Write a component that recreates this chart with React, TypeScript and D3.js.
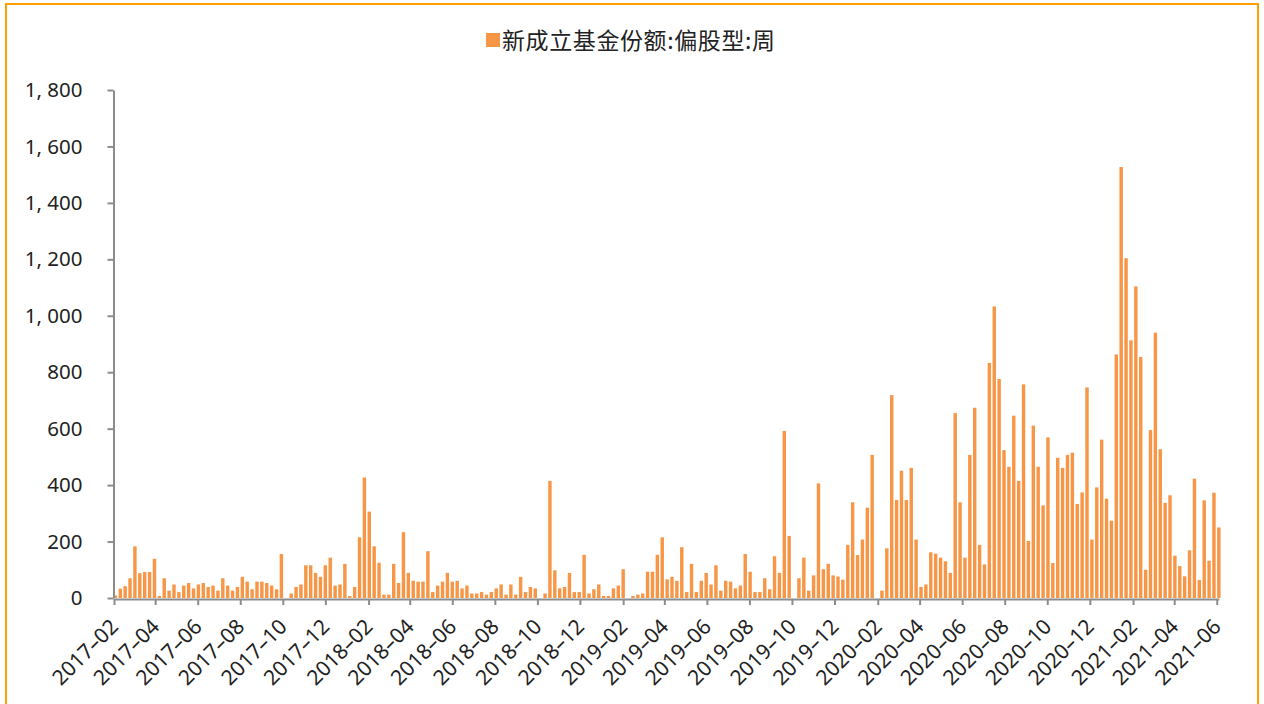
import { useEffect, useRef } from "react";
import * as d3 from "d3";

const seriesName = "新成立基金份额:偏股型:周";

// weekly new equity-fund shares, one value per Friday, split by year
const shares2017 = [
  9, 33, 42, 70, 183, 88, 92, 92, 139, 7, 70, 26, 48, 21, 44, 53, 34, 48, 53, 39,
  44, 26, 70, 44, 26, 39, 75, 58, 31, 58, 58, 53, 44, 31, 156, 0, 16, 39, 48, 116,
  116, 89, 75, 116, 143, 44, 48, 121,
];
const shares2018 = [
  7, 39, 215, 427, 306, 183, 125, 12, 12, 121, 53, 233, 89, 61, 58, 58, 166, 21, 44, 58,
  89, 58, 61, 34, 44, 16, 16, 21, 12, 21, 34, 48, 12, 48, 12, 75, 21, 39, 34, 0,
  16, 415, 98, 34, 39, 89, 21, 21, 153, 16, 31, 48,
];
const shares2019 = [
  7, 7, 34, 44, 102, 0, 7, 12, 16, 93, 93, 153, 215, 66, 75, 61, 180, 21, 121, 21,
  61, 89, 48, 116, 26, 61, 58, 34, 44, 156, 93, 21, 21, 70, 31, 148, 89, 592, 220, 0,
  70, 143, 26, 80, 406, 102, 121, 80, 76, 65, 188, 339,
];
const shares2020 = [
  152, 207, 320, 507, 0, 26, 176, 719, 347, 451, 347, 461, 207, 39, 48, 162, 157, 143, 130, 89,
  655, 339, 143, 507, 674, 188, 119, 833, 1033, 776, 524, 465, 646, 415, 757, 202, 611, 465, 328, 569,
  124, 497, 461, 507, 515, 333, 374, 746, 207, 392, 561, 352,
];
const shares2021 = [
  274, 863, 1527, 1204, 913, 1104, 854, 100, 595, 940, 527, 337, 364, 150, 113, 77, 169, 423, 64, 346,
  132, 373, 250,
];

const firstFriday = new Date(2017, 1, 3);
const lastFriday = new Date(2021, 5, 4);
const axisStart = new Date(2017, 1, 1);
const yTicks = [0, 200, 400, 600, 800, 1000, 1200, 1400, 1600, 1800];

const barColor = "#F79646";
const axisColor = "#8C8C8C";

export default function App() {
  const ref = useRef<SVGSVGElement>(null);

  useEffect(() => {
    const values = [...shares2017, ...shares2018, ...shares2019, ...shares2020, ...shares2021];
    const dates = d3.timeFriday.range(firstFriday, d3.timeDay.offset(lastFriday, 1));
    const data = dates.map((d, i) => ({ date: d, value: values[i] ?? 0 }));

    const width = 1264;
    const height = 704;
    const plotLeft = 114;
    const plotBottom = 598;
    const plotTop = 90;

    const x = d3
      .scaleTime()
      .domain([axisStart, lastFriday])
      .range([plotLeft, plotLeft + d3.timeDay.count(axisStart, lastFriday) * 0.6975]);
    const y = d3.scaleLinear().domain([0, 1800]).range([plotBottom, plotTop]);

    const svg = d3.select(ref.current);
    svg.selectAll("*").remove();

    // frame
    svg
      .append("rect")
      .attr("x", 6)
      .attr("y", 4)
      .attr("width", width - 12)
      .attr("height", height + 20)
      .attr("fill", "#fff")
      .attr("stroke", "#FFA000")
      .attr("stroke-width", 2);

    // legend
    const legend = svg.append("g");
    legend
      .append("rect")
      .attr("x", 486)
      .attr("y", 33)
      .attr("width", 14)
      .attr("height", 14)
      .attr("fill", barColor);
    legend
      .append("text")
      .attr("x", 502)
      .attr("y", 49)
      .attr("font-family", "'Noto Sans CJK SC', sans-serif")
      .attr("font-size", 23)
      .attr("letter-spacing", 0.6)
      .attr("fill", "#222")
      .text(seriesName);

    // bars
    const barW = (x(d3.timeDay.offset(firstFriday, 7)) - x(firstFriday)) * 0.7;
    svg
      .append("g")
      .selectAll("rect")
      .data(data)
      .enter()
      .append("rect")
      .attr("x", (d) => x(d.date) - barW / 2)
      .attr("y", (d) => y(d.value))
      .attr("width", barW)
      .attr("height", (d) => plotBottom - y(d.value))
      .attr("fill", barColor);

    // y axis
    const yAxis = svg
      .append("g")
      .attr("transform", `translate(${plotLeft - 0.5},0)`)
      .call(
        d3
          .axisLeft(y)
          .tickValues(yTicks)
          .tickSize(6)
          .tickSizeOuter(0)
          .tickPadding(25)
          .tickFormat((d) => d3.format(",")(d as number).replace(",", ", "))
      );
    yAxis.select(".domain").attr("stroke", axisColor).attr("stroke-width", 2);
    yAxis.selectAll(".tick line").attr("stroke", axisColor).attr("stroke-width", 2);
    yAxis
      .selectAll(".tick text")
      .attr("fill", "#222")
      .attr("font-family", "'Noto Sans', sans-serif")
      .attr("font-size", 20.5);

    // x axis
    const monthTicks = d3.timeMonth.range(axisStart, new Date(2021, 6, 1), 2);
    const xAxis = svg
      .append("g")
      .attr("transform", `translate(0,${plotBottom + 1})`)
      .call(
        d3
          .axisBottom(x)
          .tickValues(monthTicks)
          .tickSize(6)
          .tickSizeOuter(0)
          .tickFormat((d) => d3.timeFormat("%Y–%m")(d as Date))
      );
    xAxis.select(".domain").attr("stroke", axisColor).attr("stroke-width", 2);
    xAxis.selectAll(".tick line").attr("stroke", axisColor).attr("stroke-width", 2);
    xAxis
      .selectAll(".tick text")
      .attr("fill", "#222")
      .attr("font-family", "'Noto Sans', sans-serif")
      .attr("font-size", 21)
      .attr("text-anchor", "end")
      .attr("x", 0)
      .attr("y", 0)
      .attr("dy", 0)
      .attr("transform", "translate(5,29) rotate(-45)");

    return () => {
      svg.selectAll("*").remove();
    };
  }, []);

  return (
    <svg
      ref={ref}
      width={1264}
      height={704}
      style={{ position: "absolute", left: 0, top: 0, display: "block" }}
    />
  );
}
